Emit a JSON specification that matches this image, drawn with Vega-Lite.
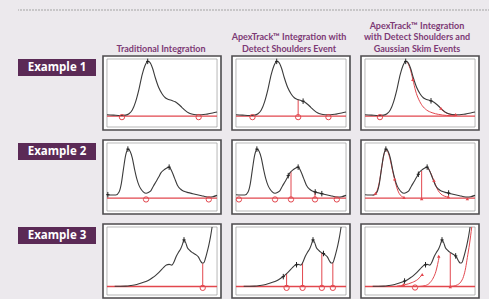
{
"$schema":"https://vega.github.io/schema/vega-lite/v6.json",
"background":"#ece9ed",
"padding":{"left":17,"top":9,"right":0,"bottom":0},
"config":{"view":{"stroke":null}},
"datasets":{
"c1":[{"x":0,"y":18},{"x":6,"y":17.5},{"x":12,"y":17},{"x":17,"y":17.5},{"x":20,"y":19.5},{"x":23,"y":25},{"x":26,"y":37},{"x":29,"y":55},{"x":32,"y":77},{"x":34.5,"y":90},{"x":37,"y":96.5},{"x":39,"y":95},{"x":41.5,"y":86},{"x":44,"y":72},{"x":47,"y":58},{"x":50,"y":49},{"x":53,"y":43},{"x":56,"y":40.5},{"x":59,"y":39},{"x":62,"y":37},{"x":65,"y":33.5},{"x":68,"y":29},{"x":71,"y":24.5},{"x":74,"y":21},{"x":77,"y":19},{"x":81,"y":18},{"x":86,"y":18},{"x":91,"y":19},{"x":96,"y":20.5},{"x":100,"y":22}],
"c2":[{"x":0,"y":24},{"x":4,"y":23.5},{"x":8,"y":23.5},{"x":11,"y":28},{"x":13,"y":40},{"x":15,"y":62},{"x":17,"y":82},{"x":19,"y":91},{"x":21,"y":88},{"x":23,"y":78},{"x":25,"y":62},{"x":27,"y":48},{"x":29,"y":38},{"x":31,"y":32},{"x":33,"y":28},{"x":35.5,"y":26},{"x":38,"y":27.5},{"x":40,"y":30},{"x":42,"y":36},{"x":44.5,"y":43},{"x":47,"y":50},{"x":49,"y":56},{"x":51.5,"y":60},{"x":54,"y":63},{"x":56.5,"y":64.5},{"x":59,"y":58},{"x":61.5,"y":48},{"x":64,"y":38},{"x":67,"y":32},{"x":70,"y":29},{"x":74,"y":27},{"x":78,"y":25.5},{"x":82,"y":24},{"x":86,"y":22.5},{"x":90,"y":21},{"x":93,"y":20.5},{"x":96,"y":21},{"x":100,"y":23}],
"c3":[{"x":7,"y":12.8},{"x":12,"y":12.8},{"x":17,"y":13},{"x":22,"y":14},{"x":27,"y":15.5},{"x":32,"y":18},{"x":37,"y":21},{"x":41,"y":25},{"x":44,"y":28.5},{"x":47,"y":33},{"x":50,"y":38},{"x":52,"y":41.5},{"x":54,"y":44},{"x":56.5,"y":45},{"x":59,"y":44},{"x":61,"y":49},{"x":63,"y":57},{"x":65,"y":63},{"x":67,"y":68},{"x":68.5,"y":74},{"x":70,"y":81},{"x":71.5,"y":77},{"x":73,"y":70},{"x":75,"y":66},{"x":77,"y":63},{"x":79,"y":61},{"x":81,"y":59},{"x":83,"y":56},{"x":85,"y":50},{"x":86.5,"y":47},{"x":88,"y":47.5},{"x":89.5,"y":54},{"x":91,"y":63},{"x":92.5,"y":73},{"x":94,"y":85},{"x":95.5,"y":100}],
"f11":[{"k":"base","y":16},{"k":"circle","x":13.6,"y":14.5},{"k":"circle","x":83.3,"y":14.5},{"k":"mark","x":37,"y":96.5}],
"f12":[{"k":"base","y":16},{"k":"circle","x":15,"y":14.5},{"k":"circle","x":56.5,"y":14.5},{"k":"circle","x":84,"y":14.5},{"k":"drop","x":56.5,"y":16,"y2":40.5},{"k":"mark","x":37,"y":96.5},{"k":"mark","x":61,"y":38}],
"f13":[{"k":"base","y":16},{"k":"circle","x":13.6,"y":14.5},{"k":"mark","x":37,"y":96.5},{"k":"mark","x":60,"y":38.5},
{"k":"skim","g":1,"x":38.5,"y":95.5},{"k":"skim","g":1,"x":41,"y":86},{"k":"skim","g":1,"x":43.5,"y":70},{"k":"skim","g":1,"x":46,"y":53},{"k":"skim","g":1,"x":49,"y":40},{"k":"skim","g":1,"x":52,"y":31.5},{"k":"skim","g":1,"x":56,"y":25},{"k":"skim","g":1,"x":61,"y":21},{"k":"skim","g":1,"x":67,"y":18.5},{"k":"skim","g":1,"x":74,"y":17},{"k":"skim","g":1,"x":82,"y":16.3},
{"k":"skim","g":2,"x":68,"y":28},{"k":"skim","g":2,"x":71,"y":23.5},{"k":"skim","g":2,"x":74,"y":20.5},{"k":"skim","g":2,"x":77,"y":18.8},{"k":"skim","g":2,"x":82,"y":18},
{"k":"rmark","x":43.5,"y":70},{"k":"rmark","x":69,"y":27.5},{"k":"rmark","x":82.4,"y":18.5}],
"f21":[{"k":"base","y":19},{"k":"circle","x":35.5,"y":17},{"k":"circle","x":92.5,"y":17},{"k":"mark","x":19,"y":91},{"k":"mark","x":56.5,"y":64.5},{"k":"mark","x":0.8,"y":24}],
"f22":[{"k":"base","y":19},{"k":"circle","x":2.7,"y":17},{"k":"circle","x":35.5,"y":17},{"k":"circle","x":50,"y":17},{"k":"circle","x":71.8,"y":17},{"k":"circle","x":91.6,"y":17},{"k":"drop","x":50,"y":19,"y2":58},{"k":"drop","x":71.8,"y":19,"y2":28},{"k":"mark","x":19,"y":91},{"k":"mark","x":47.5,"y":52},{"k":"mark","x":56.5,"y":64.5},{"k":"mark","x":72,"y":28},{"k":"mark","x":78,"y":25.5}],
"f23":[{"k":"base","y":19},{"k":"drop","x":51.5,"y":19,"y2":59},{"k":"mark","x":19,"y":91},{"k":"mark","x":48.5,"y":54},{"k":"mark","x":56.5,"y":64.5},{"k":"mark","x":76,"y":26.5},
{"k":"rmark","x":9.7,"y":26},{"k":"rmark","x":27,"y":47},{"k":"rmark","x":35.5,"y":20},{"k":"rmark","x":51.5,"y":18},{"k":"rmark","x":62.7,"y":45},{"k":"rmark","x":75.8,"y":21},{"k":"rmark","x":93,"y":18},
{"k":"skim","g":1,"x":7,"y":23},{"k":"skim","g":1,"x":9,"y":25},{"k":"skim","g":1,"x":11,"y":30},{"k":"skim","g":1,"x":13,"y":42},{"k":"skim","g":1,"x":15,"y":62},{"k":"skim","g":1,"x":17,"y":81},{"k":"skim","g":1,"x":19,"y":90},{"k":"skim","g":1,"x":21,"y":86},{"k":"skim","g":1,"x":23,"y":75},{"k":"skim","g":1,"x":25,"y":60},{"k":"skim","g":1,"x":27,"y":46},{"k":"skim","g":1,"x":29,"y":34},{"k":"skim","g":1,"x":31,"y":26},{"k":"skim","g":1,"x":33,"y":22},{"k":"skim","g":1,"x":35.5,"y":20},
{"k":"skim","g":2,"x":56.5,"y":64},{"k":"skim","g":2,"x":58.5,"y":60},{"k":"skim","g":2,"x":60.5,"y":53},{"k":"skim","g":2,"x":62.5,"y":45},{"k":"skim","g":2,"x":64.5,"y":37},{"k":"skim","g":2,"x":66.5,"y":30},{"k":"skim","g":2,"x":69,"y":25},{"k":"skim","g":2,"x":72,"y":22},{"k":"skim","g":2,"x":76,"y":20.5}],
"f31":[{"k":"base","y":12.5},{"k":"drop","x":87,"y":12.5,"y2":46.5},{"k":"circle","x":87,"y":10.5},{"k":"mark","x":70,"y":81}],
"f32":[{"k":"base","y":12.5},{"k":"drop","x":46,"y":12.5,"y2":31.5},{"k":"drop","x":60.5,"y":12.5,"y2":47.5},{"k":"drop","x":78,"y":12.5,"y2":62},{"k":"drop","x":88,"y":12.5,"y2":47.5},{"k":"circle","x":46,"y":10.5},{"k":"circle","x":60.5,"y":10.5},{"k":"circle","x":78,"y":10.5},{"k":"circle","x":88,"y":10.5},{"k":"mark","x":43,"y":27},{"k":"mark","x":55,"y":44.5},{"k":"mark","x":70,"y":81},{"k":"mark","x":79.5,"y":61}],
"f33":[{"k":"base","y":12.5},{"k":"drop","x":77.5,"y":12.5,"y2":62},{"k":"circle","x":45.5,"y":11},{"k":"rmark","x":35,"y":15.5},{"k":"rmark","x":52,"y":30},{"k":"rmark","x":67,"y":57},{"k":"rmark","x":77.5,"y":12},{"k":"mark","x":36,"y":20.5},{"k":"mark","x":55,"y":44.5},{"k":"mark","x":70,"y":81},{"k":"mark","x":82.4,"y":57.5},
{"k":"skim","g":1,"x":29,"y":13},{"k":"skim","g":1,"x":36,"y":15},{"k":"skim","g":1,"x":43,"y":18.5},{"k":"skim","g":1,"x":48,"y":23},{"k":"skim","g":1,"x":52,"y":30},
{"k":"skim","g":2,"x":49,"y":12.5},{"k":"skim","g":2,"x":55,"y":14},{"k":"skim","g":2,"x":59,"y":18},{"k":"skim","g":2,"x":62,"y":25},{"k":"skim","g":2,"x":64.5,"y":35},{"k":"skim","g":2,"x":66,"y":45},{"k":"skim","g":2,"x":67.5,"y":57},
{"k":"skim","g":3,"x":76,"y":12.5},{"k":"skim","g":3,"x":80,"y":13},{"k":"skim","g":3,"x":84,"y":15},{"k":"skim","g":3,"x":87,"y":19},{"k":"skim","g":3,"x":89.5,"y":27},{"k":"skim","g":3,"x":91.5,"y":40},{"k":"skim","g":3,"x":93,"y":55},{"k":"skim","g":3,"x":95,"y":75},{"k":"skim","g":3,"x":97,"y":100}]
},
"spacing":0,
"vconcat":[
{"spacing":0,"vconcat":[
 {"width":472,"height":1,"data":{"values":[{"k":"rule"}]},"mark":{"type":"rule","color":"#a3a3a3","strokeDash":[2,1],"strokeWidth":1},"encoding":{"y":{"datum":0,"type":"quantitative","scale":{"domain":[0,1]},"axis":null}}},
 {"spacing":6,"hconcat":[
  {"width":78,"height":42,"data":{"values":[{"t":""}]},"mark":{"type":"text"},"encoding":{"text":{"field":"t"}}},
  {"spacing":10,"hconcat":[
  {"width":118,"height":42,"data":{"values":[{"t":"Traditional Integration","r":0}]},"mark":{"type":"text","baseline":"middle","align":"center","fontSize":9,"font":"Lato","fontWeight":"bold","color":"#7d3a75"},"encoding":{"text":{"field":"t"},"y":{"field":"r","type":"quantitative","scale":{"domain":[-0.333,3.25]},"axis":null}}},
  {"width":118,"height":42,"data":{"values":[{"t":"ApexTrack™ Integration with","r":1},{"t":"Detect Shoulders Event","r":0}]},"mark":{"type":"text","baseline":"middle","align":"center","fontSize":9,"font":"Lato","fontWeight":"bold","color":"#7d3a75"},"encoding":{"text":{"field":"t"},"y":{"field":"r","type":"quantitative","scale":{"domain":[-0.333,3.25]},"axis":null}}},
  {"width":118,"height":42,"data":{"values":[{"t":"ApexTrack™  Integration","r":2},{"t":"with Detect Shoulders and","r":1},{"t":"Gaussian Skim Events","r":0}]},"mark":{"type":"text","baseline":"middle","align":"center","fontSize":9,"font":"Lato","fontWeight":"bold","color":"#7d3a75"},"encoding":{"text":{"field":"t"},"y":{"field":"r","type":"quantitative","scale":{"domain":[-0.333,3.25]},"axis":null}}}
  ]}
 ]}
]},
{"spacing":8,"vconcat":[
 {"spacing":6,"hconcat":[
  {"width":78,"height":74,"data":{"values":[{"label":"Example 1"}]},"layer":[
   {"mark":{"type":"rect","color":"#5b2a56"},"encoding":{"y":{"datum":3,"type":"quantitative","scale":{"domain":[0,74],"reverse":true},"axis":null},"y2":{"datum":20}}},
   {"mark":{"type":"text","color":"#ffffff","font":"Open Sans","fontWeight":"bold","fontSize":11.5,"baseline":"middle","align":"center"},"encoding":{"text":{"field":"label"},"y":{"datum":11.5,"type":"quantitative","scale":{"domain":[0,74],"reverse":true},"axis":null}}}
  ]},
  {"spacing":9,"hconcat":[
  {"width":118,"height":74,"view":{"stroke":"#4d4b4e","strokeWidth":1.6,"fill":"#ffffff"},"layer":[
   {"data":{"values":[{"k":"box"}]},"mark":{"type":"rect","fill":"transparent","stroke":"#9a9a9a","strokeWidth":0.7},"encoding":{"x":{"datum":0,"type":"quantitative","scale":{"domain":[-3.6,103.6]},"axis":{"title":null,"labels":false,"domain":false,"grid":false,"tickSize":2,"tickColor":"#777777","tickWidth":0.8,"offset":-5,"values":[10,22,34,46,58,70,82,94]}},"x2":{"datum":100},"y":{"datum":0,"type":"quantitative","scale":{"domain":[-4.4,104.4]},"axis":{"title":null,"labels":false,"domain":false,"grid":false,"tickSize":2,"tickColor":"#777777","tickWidth":0.8,"offset":-6,"values":[40,78]}},"y2":{"datum":100}}},
   {"data":{"name":"f11"},"transform":[{"filter":{"field":"k","equal":"base"}}],"mark":{"type":"rule","color":"#e2474e","strokeWidth":1.3},"encoding":{"y":{"field":"y","type":"quantitative","scale":{"domain":[-4.4,104.4]},"axis":null},"x":{"datum":0,"type":"quantitative","scale":{"domain":[-3.6,103.6]},"axis":null},"x2":{"datum":100}}},
   {"data":{"name":"f11"},"transform":[{"filter":{"field":"k","equal":"drop"}}],"mark":{"type":"rule","color":"#e2474e","strokeWidth":1},"encoding":{"x":{"field":"x","type":"quantitative","scale":{"domain":[-3.6,103.6]},"axis":null},"y":{"field":"y","type":"quantitative","scale":{"domain":[-4.4,104.4]},"axis":null},"y2":{"field":"y2"}}},
   {"data":{"name":"f11"},"transform":[{"filter":{"field":"k","equal":"skim"}}],"mark":{"type":"line","color":"#e2474e","strokeWidth":1,"interpolate":"monotone"},"encoding":{"x":{"field":"x","type":"quantitative","scale":{"domain":[-3.6,103.6]},"axis":null},"y":{"field":"y","type":"quantitative","scale":{"domain":[-4.4,104.4]},"axis":null},"detail":{"field":"g","type":"nominal"}}},
   {"data":{"name":"c1"},"mark":{"type":"line","color":"#3b3b3b","strokeWidth":1.1,"interpolate":"monotone"},"encoding":{"x":{"field":"x","type":"quantitative","scale":{"domain":[-3.6,103.6]},"axis":null},"y":{"field":"y","type":"quantitative","scale":{"domain":[-4.4,104.4]},"axis":null}}},
   {"data":{"name":"f11"},"transform":[{"filter":{"field":"k","equal":"circle"}}],"mark":{"type":"point","shape":"circle","filled":false,"color":"#e2474e","strokeWidth":1,"size":28,"opacity":1},"encoding":{"x":{"field":"x","type":"quantitative","scale":{"domain":[-3.6,103.6]},"axis":null},"y":{"field":"y","type":"quantitative","scale":{"domain":[-4.4,104.4]},"axis":null}}},
   {"data":{"name":"f11"},"transform":[{"filter":{"field":"k","equal":"mark"}}],"mark":{"type":"point","shape":"M0,-1V1M-0.6,0H0.6","filled":false,"color":"#222222","strokeWidth":1,"size":30,"opacity":1},"encoding":{"x":{"field":"x","type":"quantitative","scale":{"domain":[-3.6,103.6]},"axis":null},"y":{"field":"y","type":"quantitative","scale":{"domain":[-4.4,104.4]},"axis":null}}},
   {"data":{"name":"f11"},"transform":[{"filter":{"field":"k","equal":"rmark"}}],"mark":{"type":"point","shape":"triangle-up","filled":true,"color":"#e2474e","size":12,"opacity":1},"encoding":{"x":{"field":"x","type":"quantitative","scale":{"domain":[-3.6,103.6]},"axis":null},"y":{"field":"y","type":"quantitative","scale":{"domain":[-4.4,104.4]},"axis":null}}}
  ]},
  {"width":118,"height":74,"view":{"stroke":"#4d4b4e","strokeWidth":1.6,"fill":"#ffffff"},"layer":[
   {"data":{"values":[{"k":"box"}]},"mark":{"type":"rect","fill":"transparent","stroke":"#9a9a9a","strokeWidth":0.7},"encoding":{"x":{"datum":0,"type":"quantitative","scale":{"domain":[-3.6,103.6]},"axis":{"title":null,"labels":false,"domain":false,"grid":false,"tickSize":2,"tickColor":"#777777","tickWidth":0.8,"offset":-5,"values":[10,22,34,46,58,70,82,94]}},"x2":{"datum":100},"y":{"datum":0,"type":"quantitative","scale":{"domain":[-4.4,104.4]},"axis":{"title":null,"labels":false,"domain":false,"grid":false,"tickSize":2,"tickColor":"#777777","tickWidth":0.8,"offset":-6,"values":[40,78]}},"y2":{"datum":100}}},
   {"data":{"name":"f12"},"transform":[{"filter":{"field":"k","equal":"base"}}],"mark":{"type":"rule","color":"#e2474e","strokeWidth":1.3},"encoding":{"y":{"field":"y","type":"quantitative","scale":{"domain":[-4.4,104.4]},"axis":null},"x":{"datum":0,"type":"quantitative","scale":{"domain":[-3.6,103.6]},"axis":null},"x2":{"datum":100}}},
   {"data":{"name":"f12"},"transform":[{"filter":{"field":"k","equal":"drop"}}],"mark":{"type":"rule","color":"#e2474e","strokeWidth":1},"encoding":{"x":{"field":"x","type":"quantitative","scale":{"domain":[-3.6,103.6]},"axis":null},"y":{"field":"y","type":"quantitative","scale":{"domain":[-4.4,104.4]},"axis":null},"y2":{"field":"y2"}}},
   {"data":{"name":"f12"},"transform":[{"filter":{"field":"k","equal":"skim"}}],"mark":{"type":"line","color":"#e2474e","strokeWidth":1,"interpolate":"monotone"},"encoding":{"x":{"field":"x","type":"quantitative","scale":{"domain":[-3.6,103.6]},"axis":null},"y":{"field":"y","type":"quantitative","scale":{"domain":[-4.4,104.4]},"axis":null},"detail":{"field":"g","type":"nominal"}}},
   {"data":{"name":"c1"},"mark":{"type":"line","color":"#3b3b3b","strokeWidth":1.1,"interpolate":"monotone"},"encoding":{"x":{"field":"x","type":"quantitative","scale":{"domain":[-3.6,103.6]},"axis":null},"y":{"field":"y","type":"quantitative","scale":{"domain":[-4.4,104.4]},"axis":null}}},
   {"data":{"name":"f12"},"transform":[{"filter":{"field":"k","equal":"circle"}}],"mark":{"type":"point","shape":"circle","filled":false,"color":"#e2474e","strokeWidth":1,"size":28,"opacity":1},"encoding":{"x":{"field":"x","type":"quantitative","scale":{"domain":[-3.6,103.6]},"axis":null},"y":{"field":"y","type":"quantitative","scale":{"domain":[-4.4,104.4]},"axis":null}}},
   {"data":{"name":"f12"},"transform":[{"filter":{"field":"k","equal":"mark"}}],"mark":{"type":"point","shape":"M0,-1V1M-0.6,0H0.6","filled":false,"color":"#222222","strokeWidth":1,"size":30,"opacity":1},"encoding":{"x":{"field":"x","type":"quantitative","scale":{"domain":[-3.6,103.6]},"axis":null},"y":{"field":"y","type":"quantitative","scale":{"domain":[-4.4,104.4]},"axis":null}}},
   {"data":{"name":"f12"},"transform":[{"filter":{"field":"k","equal":"rmark"}}],"mark":{"type":"point","shape":"triangle-up","filled":true,"color":"#e2474e","size":12,"opacity":1},"encoding":{"x":{"field":"x","type":"quantitative","scale":{"domain":[-3.6,103.6]},"axis":null},"y":{"field":"y","type":"quantitative","scale":{"domain":[-4.4,104.4]},"axis":null}}}
  ]},
  {"width":118,"height":74,"view":{"stroke":"#4d4b4e","strokeWidth":1.6,"fill":"#ffffff"},"layer":[
   {"data":{"values":[{"k":"box"}]},"mark":{"type":"rect","fill":"transparent","stroke":"#9a9a9a","strokeWidth":0.7},"encoding":{"x":{"datum":0,"type":"quantitative","scale":{"domain":[-3.6,103.6]},"axis":{"title":null,"labels":false,"domain":false,"grid":false,"tickSize":2,"tickColor":"#777777","tickWidth":0.8,"offset":-5,"values":[10,22,34,46,58,70,82,94]}},"x2":{"datum":100},"y":{"datum":0,"type":"quantitative","scale":{"domain":[-4.4,104.4]},"axis":{"title":null,"labels":false,"domain":false,"grid":false,"tickSize":2,"tickColor":"#777777","tickWidth":0.8,"offset":-6,"values":[40,78]}},"y2":{"datum":100}}},
   {"data":{"name":"f13"},"transform":[{"filter":{"field":"k","equal":"base"}}],"mark":{"type":"rule","color":"#e2474e","strokeWidth":1.3},"encoding":{"y":{"field":"y","type":"quantitative","scale":{"domain":[-4.4,104.4]},"axis":null},"x":{"datum":0,"type":"quantitative","scale":{"domain":[-3.6,103.6]},"axis":null},"x2":{"datum":100}}},
   {"data":{"name":"f13"},"transform":[{"filter":{"field":"k","equal":"drop"}}],"mark":{"type":"rule","color":"#e2474e","strokeWidth":1},"encoding":{"x":{"field":"x","type":"quantitative","scale":{"domain":[-3.6,103.6]},"axis":null},"y":{"field":"y","type":"quantitative","scale":{"domain":[-4.4,104.4]},"axis":null},"y2":{"field":"y2"}}},
   {"data":{"name":"f13"},"transform":[{"filter":{"field":"k","equal":"skim"}}],"mark":{"type":"line","color":"#e2474e","strokeWidth":1,"interpolate":"monotone"},"encoding":{"x":{"field":"x","type":"quantitative","scale":{"domain":[-3.6,103.6]},"axis":null},"y":{"field":"y","type":"quantitative","scale":{"domain":[-4.4,104.4]},"axis":null},"detail":{"field":"g","type":"nominal"}}},
   {"data":{"name":"c1"},"mark":{"type":"line","color":"#3b3b3b","strokeWidth":1.1,"interpolate":"monotone"},"encoding":{"x":{"field":"x","type":"quantitative","scale":{"domain":[-3.6,103.6]},"axis":null},"y":{"field":"y","type":"quantitative","scale":{"domain":[-4.4,104.4]},"axis":null}}},
   {"data":{"name":"f13"},"transform":[{"filter":{"field":"k","equal":"circle"}}],"mark":{"type":"point","shape":"circle","filled":false,"color":"#e2474e","strokeWidth":1,"size":28,"opacity":1},"encoding":{"x":{"field":"x","type":"quantitative","scale":{"domain":[-3.6,103.6]},"axis":null},"y":{"field":"y","type":"quantitative","scale":{"domain":[-4.4,104.4]},"axis":null}}},
   {"data":{"name":"f13"},"transform":[{"filter":{"field":"k","equal":"mark"}}],"mark":{"type":"point","shape":"M0,-1V1M-0.6,0H0.6","filled":false,"color":"#222222","strokeWidth":1,"size":30,"opacity":1},"encoding":{"x":{"field":"x","type":"quantitative","scale":{"domain":[-3.6,103.6]},"axis":null},"y":{"field":"y","type":"quantitative","scale":{"domain":[-4.4,104.4]},"axis":null}}},
   {"data":{"name":"f13"},"transform":[{"filter":{"field":"k","equal":"rmark"}}],"mark":{"type":"point","shape":"triangle-up","filled":true,"color":"#e2474e","size":12,"opacity":1},"encoding":{"x":{"field":"x","type":"quantitative","scale":{"domain":[-3.6,103.6]},"axis":null},"y":{"field":"y","type":"quantitative","scale":{"domain":[-4.4,104.4]},"axis":null}}}
  ]}
  ]}
 ]},
 {"spacing":6,"hconcat":[
  {"width":78,"height":74,"data":{"values":[{"label":"Example 2"}]},"layer":[
   {"mark":{"type":"rect","color":"#5b2a56"},"encoding":{"y":{"datum":3,"type":"quantitative","scale":{"domain":[0,74],"reverse":true},"axis":null},"y2":{"datum":20}}},
   {"mark":{"type":"text","color":"#ffffff","font":"Open Sans","fontWeight":"bold","fontSize":11.5,"baseline":"middle","align":"center"},"encoding":{"text":{"field":"label"},"y":{"datum":11.5,"type":"quantitative","scale":{"domain":[0,74],"reverse":true},"axis":null}}}
  ]},
  {"spacing":9,"hconcat":[
  {"width":118,"height":74,"view":{"stroke":"#4d4b4e","strokeWidth":1.6,"fill":"#ffffff"},"layer":[
   {"data":{"values":[{"k":"box"}]},"mark":{"type":"rect","fill":"transparent","stroke":"#9a9a9a","strokeWidth":0.7},"encoding":{"x":{"datum":0,"type":"quantitative","scale":{"domain":[-3.6,103.6]},"axis":{"title":null,"labels":false,"domain":false,"grid":false,"tickSize":2,"tickColor":"#777777","tickWidth":0.8,"offset":-5,"values":[10,22,34,46,58,70,82,94]}},"x2":{"datum":100},"y":{"datum":0,"type":"quantitative","scale":{"domain":[-4.4,104.4]},"axis":{"title":null,"labels":false,"domain":false,"grid":false,"tickSize":2,"tickColor":"#777777","tickWidth":0.8,"offset":-6,"values":[40,78]}},"y2":{"datum":100}}},
   {"data":{"name":"f21"},"transform":[{"filter":{"field":"k","equal":"base"}}],"mark":{"type":"rule","color":"#e2474e","strokeWidth":1.3},"encoding":{"y":{"field":"y","type":"quantitative","scale":{"domain":[-4.4,104.4]},"axis":null},"x":{"datum":0,"type":"quantitative","scale":{"domain":[-3.6,103.6]},"axis":null},"x2":{"datum":100}}},
   {"data":{"name":"f21"},"transform":[{"filter":{"field":"k","equal":"drop"}}],"mark":{"type":"rule","color":"#e2474e","strokeWidth":1},"encoding":{"x":{"field":"x","type":"quantitative","scale":{"domain":[-3.6,103.6]},"axis":null},"y":{"field":"y","type":"quantitative","scale":{"domain":[-4.4,104.4]},"axis":null},"y2":{"field":"y2"}}},
   {"data":{"name":"f21"},"transform":[{"filter":{"field":"k","equal":"skim"}}],"mark":{"type":"line","color":"#e2474e","strokeWidth":1,"interpolate":"monotone"},"encoding":{"x":{"field":"x","type":"quantitative","scale":{"domain":[-3.6,103.6]},"axis":null},"y":{"field":"y","type":"quantitative","scale":{"domain":[-4.4,104.4]},"axis":null},"detail":{"field":"g","type":"nominal"}}},
   {"data":{"name":"c2"},"mark":{"type":"line","color":"#3b3b3b","strokeWidth":1.1,"interpolate":"monotone"},"encoding":{"x":{"field":"x","type":"quantitative","scale":{"domain":[-3.6,103.6]},"axis":null},"y":{"field":"y","type":"quantitative","scale":{"domain":[-4.4,104.4]},"axis":null}}},
   {"data":{"name":"f21"},"transform":[{"filter":{"field":"k","equal":"circle"}}],"mark":{"type":"point","shape":"circle","filled":false,"color":"#e2474e","strokeWidth":1,"size":28,"opacity":1},"encoding":{"x":{"field":"x","type":"quantitative","scale":{"domain":[-3.6,103.6]},"axis":null},"y":{"field":"y","type":"quantitative","scale":{"domain":[-4.4,104.4]},"axis":null}}},
   {"data":{"name":"f21"},"transform":[{"filter":{"field":"k","equal":"mark"}}],"mark":{"type":"point","shape":"M0,-1V1M-0.6,0H0.6","filled":false,"color":"#222222","strokeWidth":1,"size":30,"opacity":1},"encoding":{"x":{"field":"x","type":"quantitative","scale":{"domain":[-3.6,103.6]},"axis":null},"y":{"field":"y","type":"quantitative","scale":{"domain":[-4.4,104.4]},"axis":null}}},
   {"data":{"name":"f21"},"transform":[{"filter":{"field":"k","equal":"rmark"}}],"mark":{"type":"point","shape":"triangle-up","filled":true,"color":"#e2474e","size":12,"opacity":1},"encoding":{"x":{"field":"x","type":"quantitative","scale":{"domain":[-3.6,103.6]},"axis":null},"y":{"field":"y","type":"quantitative","scale":{"domain":[-4.4,104.4]},"axis":null}}}
  ]},
  {"width":118,"height":74,"view":{"stroke":"#4d4b4e","strokeWidth":1.6,"fill":"#ffffff"},"layer":[
   {"data":{"values":[{"k":"box"}]},"mark":{"type":"rect","fill":"transparent","stroke":"#9a9a9a","strokeWidth":0.7},"encoding":{"x":{"datum":0,"type":"quantitative","scale":{"domain":[-3.6,103.6]},"axis":{"title":null,"labels":false,"domain":false,"grid":false,"tickSize":2,"tickColor":"#777777","tickWidth":0.8,"offset":-5,"values":[10,22,34,46,58,70,82,94]}},"x2":{"datum":100},"y":{"datum":0,"type":"quantitative","scale":{"domain":[-4.4,104.4]},"axis":{"title":null,"labels":false,"domain":false,"grid":false,"tickSize":2,"tickColor":"#777777","tickWidth":0.8,"offset":-6,"values":[40,78]}},"y2":{"datum":100}}},
   {"data":{"name":"f22"},"transform":[{"filter":{"field":"k","equal":"base"}}],"mark":{"type":"rule","color":"#e2474e","strokeWidth":1.3},"encoding":{"y":{"field":"y","type":"quantitative","scale":{"domain":[-4.4,104.4]},"axis":null},"x":{"datum":0,"type":"quantitative","scale":{"domain":[-3.6,103.6]},"axis":null},"x2":{"datum":100}}},
   {"data":{"name":"f22"},"transform":[{"filter":{"field":"k","equal":"drop"}}],"mark":{"type":"rule","color":"#e2474e","strokeWidth":1},"encoding":{"x":{"field":"x","type":"quantitative","scale":{"domain":[-3.6,103.6]},"axis":null},"y":{"field":"y","type":"quantitative","scale":{"domain":[-4.4,104.4]},"axis":null},"y2":{"field":"y2"}}},
   {"data":{"name":"f22"},"transform":[{"filter":{"field":"k","equal":"skim"}}],"mark":{"type":"line","color":"#e2474e","strokeWidth":1,"interpolate":"monotone"},"encoding":{"x":{"field":"x","type":"quantitative","scale":{"domain":[-3.6,103.6]},"axis":null},"y":{"field":"y","type":"quantitative","scale":{"domain":[-4.4,104.4]},"axis":null},"detail":{"field":"g","type":"nominal"}}},
   {"data":{"name":"c2"},"mark":{"type":"line","color":"#3b3b3b","strokeWidth":1.1,"interpolate":"monotone"},"encoding":{"x":{"field":"x","type":"quantitative","scale":{"domain":[-3.6,103.6]},"axis":null},"y":{"field":"y","type":"quantitative","scale":{"domain":[-4.4,104.4]},"axis":null}}},
   {"data":{"name":"f22"},"transform":[{"filter":{"field":"k","equal":"circle"}}],"mark":{"type":"point","shape":"circle","filled":false,"color":"#e2474e","strokeWidth":1,"size":28,"opacity":1},"encoding":{"x":{"field":"x","type":"quantitative","scale":{"domain":[-3.6,103.6]},"axis":null},"y":{"field":"y","type":"quantitative","scale":{"domain":[-4.4,104.4]},"axis":null}}},
   {"data":{"name":"f22"},"transform":[{"filter":{"field":"k","equal":"mark"}}],"mark":{"type":"point","shape":"M0,-1V1M-0.6,0H0.6","filled":false,"color":"#222222","strokeWidth":1,"size":30,"opacity":1},"encoding":{"x":{"field":"x","type":"quantitative","scale":{"domain":[-3.6,103.6]},"axis":null},"y":{"field":"y","type":"quantitative","scale":{"domain":[-4.4,104.4]},"axis":null}}},
   {"data":{"name":"f22"},"transform":[{"filter":{"field":"k","equal":"rmark"}}],"mark":{"type":"point","shape":"triangle-up","filled":true,"color":"#e2474e","size":12,"opacity":1},"encoding":{"x":{"field":"x","type":"quantitative","scale":{"domain":[-3.6,103.6]},"axis":null},"y":{"field":"y","type":"quantitative","scale":{"domain":[-4.4,104.4]},"axis":null}}}
  ]},
  {"width":118,"height":74,"view":{"stroke":"#4d4b4e","strokeWidth":1.6,"fill":"#ffffff"},"layer":[
   {"data":{"values":[{"k":"box"}]},"mark":{"type":"rect","fill":"transparent","stroke":"#9a9a9a","strokeWidth":0.7},"encoding":{"x":{"datum":0,"type":"quantitative","scale":{"domain":[-3.6,103.6]},"axis":{"title":null,"labels":false,"domain":false,"grid":false,"tickSize":2,"tickColor":"#777777","tickWidth":0.8,"offset":-5,"values":[10,22,34,46,58,70,82,94]}},"x2":{"datum":100},"y":{"datum":0,"type":"quantitative","scale":{"domain":[-4.4,104.4]},"axis":{"title":null,"labels":false,"domain":false,"grid":false,"tickSize":2,"tickColor":"#777777","tickWidth":0.8,"offset":-6,"values":[40,78]}},"y2":{"datum":100}}},
   {"data":{"name":"f23"},"transform":[{"filter":{"field":"k","equal":"base"}}],"mark":{"type":"rule","color":"#e2474e","strokeWidth":1.3},"encoding":{"y":{"field":"y","type":"quantitative","scale":{"domain":[-4.4,104.4]},"axis":null},"x":{"datum":0,"type":"quantitative","scale":{"domain":[-3.6,103.6]},"axis":null},"x2":{"datum":100}}},
   {"data":{"name":"f23"},"transform":[{"filter":{"field":"k","equal":"drop"}}],"mark":{"type":"rule","color":"#e2474e","strokeWidth":1},"encoding":{"x":{"field":"x","type":"quantitative","scale":{"domain":[-3.6,103.6]},"axis":null},"y":{"field":"y","type":"quantitative","scale":{"domain":[-4.4,104.4]},"axis":null},"y2":{"field":"y2"}}},
   {"data":{"name":"f23"},"transform":[{"filter":{"field":"k","equal":"skim"}}],"mark":{"type":"line","color":"#e2474e","strokeWidth":1,"interpolate":"monotone"},"encoding":{"x":{"field":"x","type":"quantitative","scale":{"domain":[-3.6,103.6]},"axis":null},"y":{"field":"y","type":"quantitative","scale":{"domain":[-4.4,104.4]},"axis":null},"detail":{"field":"g","type":"nominal"}}},
   {"data":{"name":"c2"},"mark":{"type":"line","color":"#3b3b3b","strokeWidth":1.1,"interpolate":"monotone"},"encoding":{"x":{"field":"x","type":"quantitative","scale":{"domain":[-3.6,103.6]},"axis":null},"y":{"field":"y","type":"quantitative","scale":{"domain":[-4.4,104.4]},"axis":null}}},
   {"data":{"name":"f23"},"transform":[{"filter":{"field":"k","equal":"circle"}}],"mark":{"type":"point","shape":"circle","filled":false,"color":"#e2474e","strokeWidth":1,"size":28,"opacity":1},"encoding":{"x":{"field":"x","type":"quantitative","scale":{"domain":[-3.6,103.6]},"axis":null},"y":{"field":"y","type":"quantitative","scale":{"domain":[-4.4,104.4]},"axis":null}}},
   {"data":{"name":"f23"},"transform":[{"filter":{"field":"k","equal":"mark"}}],"mark":{"type":"point","shape":"M0,-1V1M-0.6,0H0.6","filled":false,"color":"#222222","strokeWidth":1,"size":30,"opacity":1},"encoding":{"x":{"field":"x","type":"quantitative","scale":{"domain":[-3.6,103.6]},"axis":null},"y":{"field":"y","type":"quantitative","scale":{"domain":[-4.4,104.4]},"axis":null}}},
   {"data":{"name":"f23"},"transform":[{"filter":{"field":"k","equal":"rmark"}}],"mark":{"type":"point","shape":"triangle-up","filled":true,"color":"#e2474e","size":12,"opacity":1},"encoding":{"x":{"field":"x","type":"quantitative","scale":{"domain":[-3.6,103.6]},"axis":null},"y":{"field":"y","type":"quantitative","scale":{"domain":[-4.4,104.4]},"axis":null}}}
  ]}
  ]}
 ]},
 {"spacing":6,"hconcat":[
  {"width":78,"height":74,"data":{"values":[{"label":"Example 3"}]},"layer":[
   {"mark":{"type":"rect","color":"#5b2a56"},"encoding":{"y":{"datum":3,"type":"quantitative","scale":{"domain":[0,74],"reverse":true},"axis":null},"y2":{"datum":20}}},
   {"mark":{"type":"text","color":"#ffffff","font":"Open Sans","fontWeight":"bold","fontSize":11.5,"baseline":"middle","align":"center"},"encoding":{"text":{"field":"label"},"y":{"datum":11.5,"type":"quantitative","scale":{"domain":[0,74],"reverse":true},"axis":null}}}
  ]},
  {"spacing":9,"hconcat":[
  {"width":118,"height":74,"view":{"stroke":"#4d4b4e","strokeWidth":1.6,"fill":"#ffffff"},"layer":[
   {"data":{"values":[{"k":"box"}]},"mark":{"type":"rect","fill":"transparent","stroke":"#9a9a9a","strokeWidth":0.7},"encoding":{"x":{"datum":0,"type":"quantitative","scale":{"domain":[-3.6,103.6]},"axis":{"title":null,"labels":false,"domain":false,"grid":false,"tickSize":2,"tickColor":"#777777","tickWidth":0.8,"offset":-5,"values":[10,22,34,46,58,70,82,94]}},"x2":{"datum":100},"y":{"datum":0,"type":"quantitative","scale":{"domain":[-4.4,104.4]},"axis":{"title":null,"labels":false,"domain":false,"grid":false,"tickSize":2,"tickColor":"#777777","tickWidth":0.8,"offset":-6,"values":[40,78]}},"y2":{"datum":100}}},
   {"data":{"name":"f31"},"transform":[{"filter":{"field":"k","equal":"base"}}],"mark":{"type":"rule","color":"#e2474e","strokeWidth":1.3},"encoding":{"y":{"field":"y","type":"quantitative","scale":{"domain":[-4.4,104.4]},"axis":null},"x":{"datum":0,"type":"quantitative","scale":{"domain":[-3.6,103.6]},"axis":null},"x2":{"datum":100}}},
   {"data":{"name":"f31"},"transform":[{"filter":{"field":"k","equal":"drop"}}],"mark":{"type":"rule","color":"#e2474e","strokeWidth":1},"encoding":{"x":{"field":"x","type":"quantitative","scale":{"domain":[-3.6,103.6]},"axis":null},"y":{"field":"y","type":"quantitative","scale":{"domain":[-4.4,104.4]},"axis":null},"y2":{"field":"y2"}}},
   {"data":{"name":"f31"},"transform":[{"filter":{"field":"k","equal":"skim"}}],"mark":{"type":"line","color":"#e2474e","strokeWidth":1,"interpolate":"monotone"},"encoding":{"x":{"field":"x","type":"quantitative","scale":{"domain":[-3.6,103.6]},"axis":null},"y":{"field":"y","type":"quantitative","scale":{"domain":[-4.4,104.4]},"axis":null},"detail":{"field":"g","type":"nominal"}}},
   {"data":{"name":"c3"},"mark":{"type":"line","color":"#3b3b3b","strokeWidth":1.1,"interpolate":"monotone"},"encoding":{"x":{"field":"x","type":"quantitative","scale":{"domain":[-3.6,103.6]},"axis":null},"y":{"field":"y","type":"quantitative","scale":{"domain":[-4.4,104.4]},"axis":null}}},
   {"data":{"name":"f31"},"transform":[{"filter":{"field":"k","equal":"circle"}}],"mark":{"type":"point","shape":"circle","filled":false,"color":"#e2474e","strokeWidth":1,"size":28,"opacity":1},"encoding":{"x":{"field":"x","type":"quantitative","scale":{"domain":[-3.6,103.6]},"axis":null},"y":{"field":"y","type":"quantitative","scale":{"domain":[-4.4,104.4]},"axis":null}}},
   {"data":{"name":"f31"},"transform":[{"filter":{"field":"k","equal":"mark"}}],"mark":{"type":"point","shape":"M0,-1V1M-0.6,0H0.6","filled":false,"color":"#222222","strokeWidth":1,"size":30,"opacity":1},"encoding":{"x":{"field":"x","type":"quantitative","scale":{"domain":[-3.6,103.6]},"axis":null},"y":{"field":"y","type":"quantitative","scale":{"domain":[-4.4,104.4]},"axis":null}}},
   {"data":{"name":"f31"},"transform":[{"filter":{"field":"k","equal":"rmark"}}],"mark":{"type":"point","shape":"triangle-up","filled":true,"color":"#e2474e","size":12,"opacity":1},"encoding":{"x":{"field":"x","type":"quantitative","scale":{"domain":[-3.6,103.6]},"axis":null},"y":{"field":"y","type":"quantitative","scale":{"domain":[-4.4,104.4]},"axis":null}}}
  ]},
  {"width":118,"height":74,"view":{"stroke":"#4d4b4e","strokeWidth":1.6,"fill":"#ffffff"},"layer":[
   {"data":{"values":[{"k":"box"}]},"mark":{"type":"rect","fill":"transparent","stroke":"#9a9a9a","strokeWidth":0.7},"encoding":{"x":{"datum":0,"type":"quantitative","scale":{"domain":[-3.6,103.6]},"axis":{"title":null,"labels":false,"domain":false,"grid":false,"tickSize":2,"tickColor":"#777777","tickWidth":0.8,"offset":-5,"values":[10,22,34,46,58,70,82,94]}},"x2":{"datum":100},"y":{"datum":0,"type":"quantitative","scale":{"domain":[-4.4,104.4]},"axis":{"title":null,"labels":false,"domain":false,"grid":false,"tickSize":2,"tickColor":"#777777","tickWidth":0.8,"offset":-6,"values":[40,78]}},"y2":{"datum":100}}},
   {"data":{"name":"f32"},"transform":[{"filter":{"field":"k","equal":"base"}}],"mark":{"type":"rule","color":"#e2474e","strokeWidth":1.3},"encoding":{"y":{"field":"y","type":"quantitative","scale":{"domain":[-4.4,104.4]},"axis":null},"x":{"datum":0,"type":"quantitative","scale":{"domain":[-3.6,103.6]},"axis":null},"x2":{"datum":100}}},
   {"data":{"name":"f32"},"transform":[{"filter":{"field":"k","equal":"drop"}}],"mark":{"type":"rule","color":"#e2474e","strokeWidth":1},"encoding":{"x":{"field":"x","type":"quantitative","scale":{"domain":[-3.6,103.6]},"axis":null},"y":{"field":"y","type":"quantitative","scale":{"domain":[-4.4,104.4]},"axis":null},"y2":{"field":"y2"}}},
   {"data":{"name":"f32"},"transform":[{"filter":{"field":"k","equal":"skim"}}],"mark":{"type":"line","color":"#e2474e","strokeWidth":1,"interpolate":"monotone"},"encoding":{"x":{"field":"x","type":"quantitative","scale":{"domain":[-3.6,103.6]},"axis":null},"y":{"field":"y","type":"quantitative","scale":{"domain":[-4.4,104.4]},"axis":null},"detail":{"field":"g","type":"nominal"}}},
   {"data":{"name":"c3"},"mark":{"type":"line","color":"#3b3b3b","strokeWidth":1.1,"interpolate":"monotone"},"encoding":{"x":{"field":"x","type":"quantitative","scale":{"domain":[-3.6,103.6]},"axis":null},"y":{"field":"y","type":"quantitative","scale":{"domain":[-4.4,104.4]},"axis":null}}},
   {"data":{"name":"f32"},"transform":[{"filter":{"field":"k","equal":"circle"}}],"mark":{"type":"point","shape":"circle","filled":false,"color":"#e2474e","strokeWidth":1,"size":28,"opacity":1},"encoding":{"x":{"field":"x","type":"quantitative","scale":{"domain":[-3.6,103.6]},"axis":null},"y":{"field":"y","type":"quantitative","scale":{"domain":[-4.4,104.4]},"axis":null}}},
   {"data":{"name":"f32"},"transform":[{"filter":{"field":"k","equal":"mark"}}],"mark":{"type":"point","shape":"M0,-1V1M-0.6,0H0.6","filled":false,"color":"#222222","strokeWidth":1,"size":30,"opacity":1},"encoding":{"x":{"field":"x","type":"quantitative","scale":{"domain":[-3.6,103.6]},"axis":null},"y":{"field":"y","type":"quantitative","scale":{"domain":[-4.4,104.4]},"axis":null}}},
   {"data":{"name":"f32"},"transform":[{"filter":{"field":"k","equal":"rmark"}}],"mark":{"type":"point","shape":"triangle-up","filled":true,"color":"#e2474e","size":12,"opacity":1},"encoding":{"x":{"field":"x","type":"quantitative","scale":{"domain":[-3.6,103.6]},"axis":null},"y":{"field":"y","type":"quantitative","scale":{"domain":[-4.4,104.4]},"axis":null}}}
  ]},
  {"width":118,"height":74,"view":{"stroke":"#4d4b4e","strokeWidth":1.6,"fill":"#ffffff"},"layer":[
   {"data":{"values":[{"k":"box"}]},"mark":{"type":"rect","fill":"transparent","stroke":"#9a9a9a","strokeWidth":0.7},"encoding":{"x":{"datum":0,"type":"quantitative","scale":{"domain":[-3.6,103.6]},"axis":{"title":null,"labels":false,"domain":false,"grid":false,"tickSize":2,"tickColor":"#777777","tickWidth":0.8,"offset":-5,"values":[10,22,34,46,58,70,82,94]}},"x2":{"datum":100},"y":{"datum":0,"type":"quantitative","scale":{"domain":[-4.4,104.4]},"axis":{"title":null,"labels":false,"domain":false,"grid":false,"tickSize":2,"tickColor":"#777777","tickWidth":0.8,"offset":-6,"values":[40,78]}},"y2":{"datum":100}}},
   {"data":{"name":"f33"},"transform":[{"filter":{"field":"k","equal":"base"}}],"mark":{"type":"rule","color":"#e2474e","strokeWidth":1.3},"encoding":{"y":{"field":"y","type":"quantitative","scale":{"domain":[-4.4,104.4]},"axis":null},"x":{"datum":0,"type":"quantitative","scale":{"domain":[-3.6,103.6]},"axis":null},"x2":{"datum":100}}},
   {"data":{"name":"f33"},"transform":[{"filter":{"field":"k","equal":"drop"}}],"mark":{"type":"rule","color":"#e2474e","strokeWidth":1},"encoding":{"x":{"field":"x","type":"quantitative","scale":{"domain":[-3.6,103.6]},"axis":null},"y":{"field":"y","type":"quantitative","scale":{"domain":[-4.4,104.4]},"axis":null},"y2":{"field":"y2"}}},
   {"data":{"name":"f33"},"transform":[{"filter":{"field":"k","equal":"skim"}}],"mark":{"type":"line","color":"#e2474e","strokeWidth":1,"interpolate":"monotone"},"encoding":{"x":{"field":"x","type":"quantitative","scale":{"domain":[-3.6,103.6]},"axis":null},"y":{"field":"y","type":"quantitative","scale":{"domain":[-4.4,104.4]},"axis":null},"detail":{"field":"g","type":"nominal"}}},
   {"data":{"name":"c3"},"mark":{"type":"line","color":"#3b3b3b","strokeWidth":1.1,"interpolate":"monotone"},"encoding":{"x":{"field":"x","type":"quantitative","scale":{"domain":[-3.6,103.6]},"axis":null},"y":{"field":"y","type":"quantitative","scale":{"domain":[-4.4,104.4]},"axis":null}}},
   {"data":{"name":"f33"},"transform":[{"filter":{"field":"k","equal":"circle"}}],"mark":{"type":"point","shape":"circle","filled":false,"color":"#e2474e","strokeWidth":1,"size":28,"opacity":1},"encoding":{"x":{"field":"x","type":"quantitative","scale":{"domain":[-3.6,103.6]},"axis":null},"y":{"field":"y","type":"quantitative","scale":{"domain":[-4.4,104.4]},"axis":null}}},
   {"data":{"name":"f33"},"transform":[{"filter":{"field":"k","equal":"mark"}}],"mark":{"type":"point","shape":"M0,-1V1M-0.6,0H0.6","filled":false,"color":"#222222","strokeWidth":1,"size":30,"opacity":1},"encoding":{"x":{"field":"x","type":"quantitative","scale":{"domain":[-3.6,103.6]},"axis":null},"y":{"field":"y","type":"quantitative","scale":{"domain":[-4.4,104.4]},"axis":null}}},
   {"data":{"name":"f33"},"transform":[{"filter":{"field":"k","equal":"rmark"}}],"mark":{"type":"point","shape":"triangle-up","filled":true,"color":"#e2474e","size":12,"opacity":1},"encoding":{"x":{"field":"x","type":"quantitative","scale":{"domain":[-3.6,103.6]},"axis":null},"y":{"field":"y","type":"quantitative","scale":{"domain":[-4.4,104.4]},"axis":null}}}
  ]}
  ]}
 ]}
]}
]
}
